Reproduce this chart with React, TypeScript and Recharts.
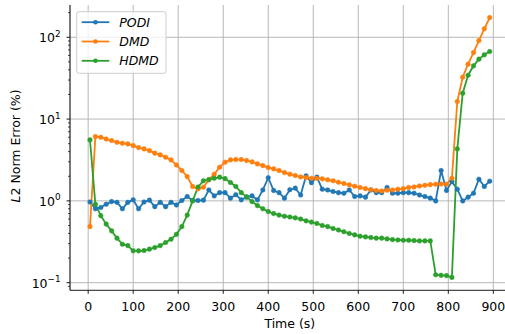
import { CartesianGrid, Line, LineChart, XAxis, YAxis } from "recharts";

// time stamps (s)
const times = [
  4, 16, 28, 40, 52, 64, 76, 88, 100, 112, 124, 136, 148, 160, 172, 184, 196, 208, 220, 232,
  244, 256, 268, 280, 292, 304, 316, 328, 340, 352, 364, 376, 388, 400, 412, 424, 436, 448, 460, 472,
  484, 496, 508, 520, 532, 544, 556, 568, 580, 592, 604, 616, 628, 640, 652, 664, 676, 688, 700, 712,
  724, 736, 748, 760, 772, 784, 796, 808, 820, 832, 844, 856, 868, 880, 892,
];

const podi = [
  0.97, 0.8, 0.83, 0.91, 0.98, 0.96, 0.8, 0.96, 1.03, 0.8, 0.97, 1.02, 0.85, 0.96, 0.85, 0.96, 0.89, 1.01, 1.13, 1.01,
  1.01, 1.02, 1.36, 1.15, 1.26, 1.26, 1.08, 1.19, 1.03, 1.11, 1.15, 1.03, 1.36, 1.92, 1.34, 1.26, 1.08, 1.37, 1.43, 1.18,
  2.02, 1.67, 1.95, 1.39, 1.36, 1.3, 1.26, 1.24, 1.36, 1.13, 1.15, 1.11, 1.36, 1.26, 1.26, 1.46, 1.24, 1.24, 1.26, 1.26,
  1.24, 1.18, 1.13, 1.08, 1.0, 2.35, 1.34, 1.72, 1.39, 1.0, 1.11, 1.24, 1.84, 1.5, 1.74,
];

const dmd = [
  0.485, 6.1, 6.0, 5.7, 5.46, 5.2, 5.07, 4.97, 4.74, 4.48, 4.32, 4.12, 3.83, 3.65, 3.42, 3.17, 2.75, 2.35, 1.98, 1.5,
  1.4, 1.47, 1.81, 2.12, 2.58, 2.97, 3.17, 3.2, 3.2, 3.11, 3.0, 2.83, 2.7, 2.55, 2.46, 2.35, 2.22, 2.12, 2.04, 1.96,
  1.93, 1.89, 1.89, 1.86, 1.81, 1.76, 1.69, 1.63, 1.57, 1.51, 1.46, 1.41, 1.37, 1.34, 1.32, 1.35, 1.36, 1.39, 1.41, 1.46,
  1.48, 1.52, 1.55, 1.58, 1.6, 1.61, 1.6, 1.89, 16.4, 32.5, 46.9, 65, 91, 127, 174,
];

const hdmd = [
  5.57, 0.91, 0.66, 0.52, 0.43, 0.35, 0.295, 0.284, 0.245, 0.245, 0.247, 0.257, 0.269, 0.284, 0.31, 0.34, 0.39, 0.485, 0.67, 1.0,
  1.48, 1.76, 1.82, 1.89, 1.95, 1.87, 1.68, 1.5, 1.26, 1.12, 0.98, 0.875, 0.8, 0.74, 0.7, 0.67, 0.65, 0.635, 0.62, 0.6,
  0.57, 0.55, 0.53, 0.5, 0.485, 0.46, 0.44, 0.42, 0.4, 0.384, 0.37, 0.363, 0.356, 0.35, 0.35, 0.343, 0.336, 0.333, 0.33, 0.33,
  0.327, 0.324, 0.324, 0.324, 0.125, 0.123, 0.122, 0.116, 4.32, 20.7, 34.4, 44.7, 54, 61, 66.9,
];

const xTicks = [0, 100, 200, 300, 400, 500, 600, 700, 800, 900];
const yMajor = [0.1, 1, 10, 100];
const yExp = ["\u22121", "0", "1", "2"];
const yMinor = [
  0.09, 0.2, 0.3, 0.4, 0.5, 0.6, 0.7, 0.8, 0.9, 2, 3, 4, 5, 6, 7, 8, 9,
  20, 30, 40, 50, 60, 70, 80, 90, 200,
];

const series = [
  { key: "podi", name: "PODI", color: "#1f77b4" },
  { key: "dmd", name: "DMD", color: "#ff7f0e" },
  { key: "hdmd", name: "HDMD", color: "#2ca02c" },
];

const data = times.map((t, i) => ({ t, podi: podi[i], dmd: dmd[i], hdmd: hdmd[i] }));

const FONT = "'DejaVu Sans', sans-serif";

function XTick({ x, y, payload }: any) {
  return (
    <g>
      <line x1={x} x2={x} y1={y} y2={y + 3.5} stroke="#000" strokeWidth={0.9} />
      <text x={x} y={y + 20.2} textAnchor="middle" fontSize={12.5} fontFamily={FONT} fill="#000">
        {payload.value}
      </text>
    </g>
  );
}

function YTick({ x, y, payload }: any) {
  const idx = yMajor.indexOf(payload.value);
  const major = idx >= 0;
  return (
    <g>
      <line x1={x - (major ? 3.5 : 2)} x2={x} y1={y} y2={y} stroke="#000" strokeWidth={major ? 0.9 : 0.7} />
      {major && (
        <text x={x - 9.5} y={y + 5} textAnchor="end" fontSize={12.5} fontFamily={FONT} fill="#000">
          10
          <tspan dy={-5.5} fontSize={8.8}>
            {yExp[idx]}
          </tspan>
        </text>
      )}
    </g>
  );
}

export default function App() {
  return (
    <div style={{ position: "relative", width: 505, height: 334, overflow: "hidden", background: "#fff" }}>
      <style>{"body{margin:0}"}</style>
      <LineChart
        width={520}
        height={334}
        data={data}
        margin={{ top: 5, right: 10.3, bottom: 0, left: 0 }}
      >
        <CartesianGrid stroke="#b0b0b0" strokeWidth={0.9} horizontalValues={yMajor} />
        <XAxis
          dataKey="t"
          type="number"
          domain={[-40.4, 936.4]}
          allowDataOverflow
          ticks={xTicks}
          interval={0}
          height={43.7}
          tickSize={0}
          tickMargin={0}
          tickLine={false}
          axisLine={{ stroke: "#000", strokeWidth: 0.9 }}
          tick={<XTick />}
        />
        <XAxis
          xAxisId="top"
          orientation="top"
          type="number"
          domain={[-40.4, 936.4]}
          allowDataOverflow
          height={0}
          tick={false}
          tickLine={false}
          axisLine={{ stroke: "#000", strokeWidth: 0.9 }}
        />
        <YAxis
          scale="log"
          type="number"
          domain={[0.0807, 248]}
          allowDataOverflow
          ticks={[...yMajor, ...yMinor]}
          interval={0}
          width={70}
          tickSize={0}
          tickMargin={0}
          tickLine={false}
          axisLine={{ stroke: "#000", strokeWidth: 0.9 }}
          tick={<YTick />}
        />
        {series.map((s) => (
          <Line
            key={s.key}
            type="linear"
            dataKey={s.key}
            name={s.name}
            stroke={s.color}
            strokeWidth={1.8}
            dot={{ r: 2.3, fill: s.color, stroke: s.color, strokeWidth: 0.5 }}
            activeDot={false}
            isAnimationActive={false}
          />
        ))}
      </LineChart>

      {/* axis titles and legend */}
      <svg
        width={505}
        height={334}
        style={{ position: "absolute", left: 0, top: 0, pointerEvents: "none" }}
      >
        <text x={289.8} y={327.5} textAnchor="middle" fontSize={12.5} fontFamily={FONT} fill="#000">
          Time (s)
        </text>
        <text
          transform="translate(19.5,146) rotate(-90)"
          textAnchor="middle"
          fontSize={12.5}
          fontFamily={FONT}
          fill="#000"
        >
          <tspan fontStyle="italic">L</tspan>2 Norm Error (%)
        </text>

        <rect x={76.7} y={11.7} width={89.3} height={61.6} rx={2.5} fill="#fff" fillOpacity={0.8} stroke="#cccccc" strokeWidth={1} />
        {series.map((s, i) => {
          const cy = 22.2 + i * 19.3;
          return (
            <g key={s.key}>
              <line x1={81.7} x2={109.3} y1={cy} y2={cy} stroke={s.color} strokeWidth={1.8} />
              <circle cx={95.5} cy={cy} r={2.3} fill={s.color} />
              <text x={119.3} y={cy + 4.5} fontSize={12.5} fontStyle="italic" fontFamily={FONT} fill="#000">
                {s.name}
              </text>
            </g>
          );
        })}
      </svg>
    </div>
  );
}
